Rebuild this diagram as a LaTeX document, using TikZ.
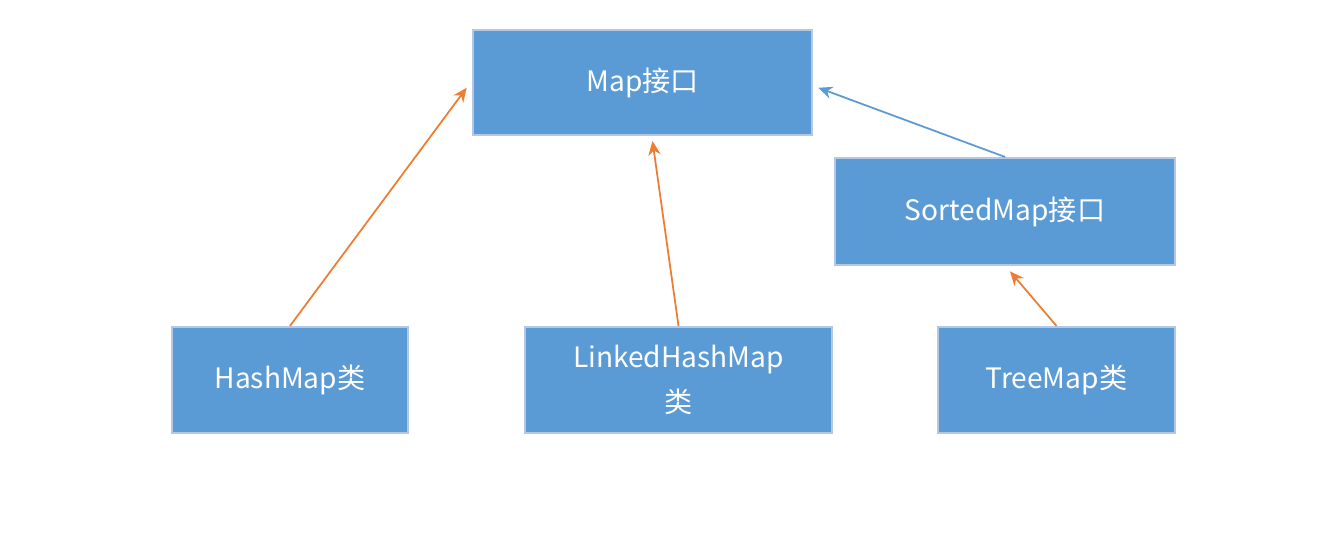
\documentclass[tikz,border=0pt]{standalone}
\usepackage{fontspec}
\setmainfont{Noto Sans CJK SC}
\usetikzlibrary{arrows.meta}
\definecolor{boxfill}{HTML}{5B9BD5}
\definecolor{boxline}{HTML}{B4C7E7}
\definecolor{orng}{HTML}{ED7D31}
\begin{document}
\begin{tikzpicture}[x=0.02cm,y=-0.02cm,
  cls/.style={draw=boxline,line width=1.2pt,fill=boxfill,text=white,inner sep=0pt,
    font=\fontsize{16}{26}\selectfont,align=center},
  inh/.style={-{Stealth[length=8pt,width=7pt]},line width=1pt}]
\useasboundingbox[fill=white] (0,0) rectangle (1317,544);
\node[cls,minimum width=339*0.02cm,minimum height=105*0.02cm] (map) at (642.5,82.5) {Map接口};
\node[cls,minimum width=340*0.02cm,minimum height=107*0.02cm] (sm) at (1005,211.5) {SortedMap接口};
\node[cls,minimum width=236*0.02cm,minimum height=106*0.02cm] (hm) at (290,380) {HashMap类};
\node[cls,minimum width=307*0.02cm,minimum height=106*0.02cm,text width=290*0.02cm] (lhm) at (678.5,380) {LinkedHashMap\\类};
\node[cls,minimum width=237*0.02cm,minimum height=106*0.02cm] (tm) at (1056.5,380) {TreeMap类};
\draw[inh,orng] (hm.north) -- ([xshift=-3pt,yshift=-3pt]map.west);
\draw[inh,orng] (lhm.north) -- ([xshift=10*0.02cm,yshift=-5*0.02cm]map.south);
\draw[inh,boxfill] (sm.north) -- ([xshift=3pt,yshift=-3pt]map.east);
\draw[inh,orng] (tm.north) -- ([xshift=5*0.02cm,yshift=-3pt]sm.south);
\end{tikzpicture}
\end{document}
